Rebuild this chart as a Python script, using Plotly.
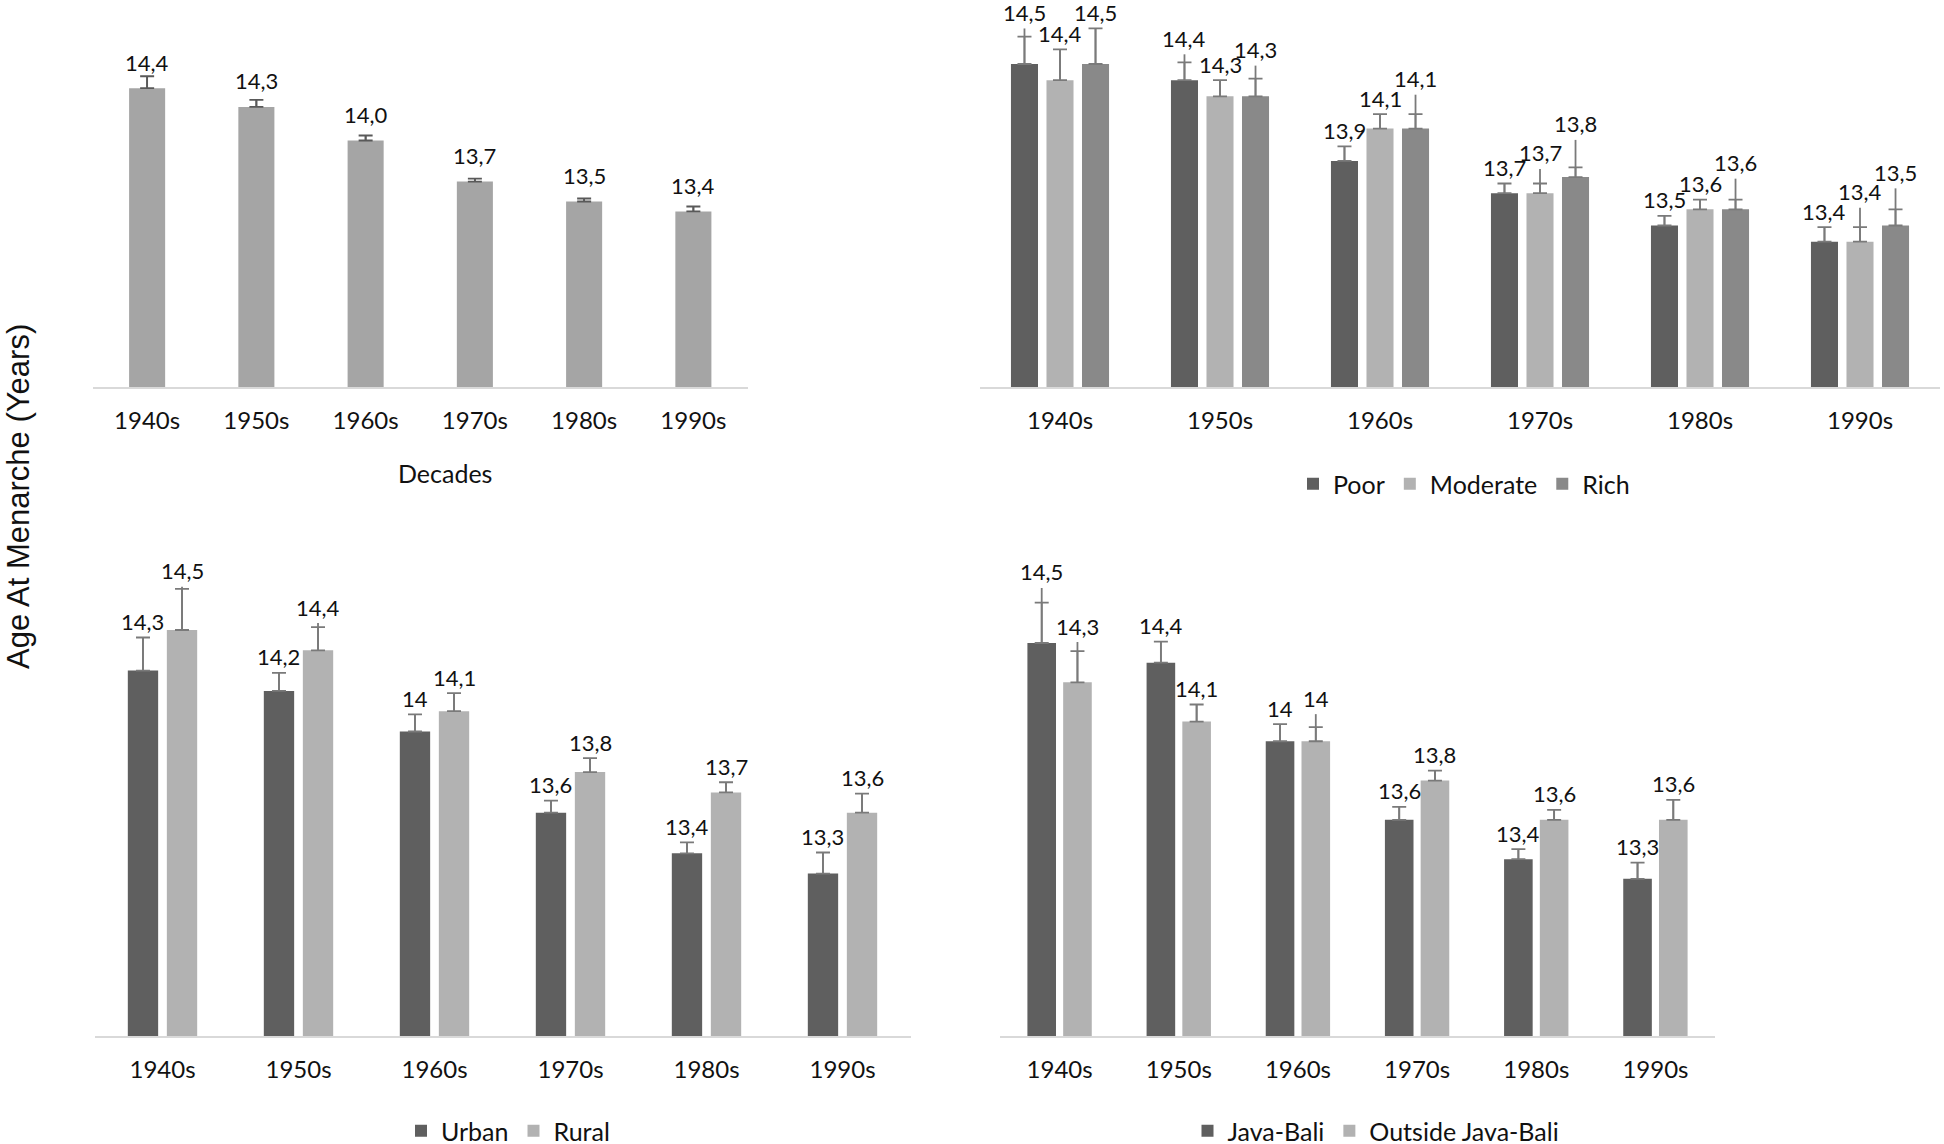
import plotly.graph_objects as go

# ---------------- data ----------------
decades = ["1940s", "1950s", "1960s", "1970s", "1980s", "1990s"]

# Panel A: all women
overall = [14.40, 14.25, 13.98, 13.65, 13.49, 13.41]
overall_err = [0.096, 0.056, 0.040, 0.024, 0.024, 0.040]
overall_lbl = ["14,4", "14,3", "14,0", "13,7", "13,5", "13,4"]

# Panel B: wealth
poor = [14.5, 14.4, 13.9, 13.7, 13.5, 13.4]
moderate = [14.4, 14.3, 14.1, 13.7, 13.6, 13.4]
rich = [14.5, 14.3, 14.1, 13.8, 13.6, 13.5]
poor_err = [0.17, 0.11, 0.09, 0.06, 0.06, 0.09]
poor_err_hi = [0.22, 0.16, 0.09, 0.06, 0.06, 0.09]
moderate_err = [0.19, 0.10, 0.09, 0.06, 0.06, 0.09]
moderate_err_hi = [0.19, 0.10, 0.09, 0.15, 0.06, 0.21]
rich_err = [0.22, 0.11, 0.09, 0.06, 0.06, 0.10]
rich_err_hi = [0.22, 0.19, 0.21, 0.23, 0.19, 0.23]
poor_lbl = ["14,5", "14,4", "13,9", "13,7", "13,5", "13,4"]
moderate_lbl = ["14,4", "14,3", "14,1", "13,7", "13,6", "13,4"]
rich_lbl = ["14,5", "14,3", "14,1", "13,8", "13,6", "13,5"]

# Panel C: residence
urban = [14.3, 14.2, 14.0, 13.6, 13.4, 13.3]
rural = [14.5, 14.4, 14.1, 13.8, 13.7, 13.6]
urban_err = [0.163, 0.089, 0.084, 0.059, 0.054, 0.104]
urban_err_hi = [0.163, 0.089, 0.084, 0.059, 0.054, 0.104]
rural_err = [0.203, 0.114, 0.089, 0.069, 0.050, 0.094]
rural_err_hi = [0.213, 0.134, 0.089, 0.069, 0.050, 0.094]
urban_lbl = ["14,3", "14,2", "14", "13,6", "13,4", "13,3"]
rural_lbl = ["14,5", "14,4", "14,1", "13,8", "13,7", "13,6"]

# Panel D: region
java = [14.5, 14.4, 14.0, 13.6, 13.4, 13.3]
outside = [14.3, 14.1, 14.0, 13.8, 13.6, 13.6]
java_err = [0.205, 0.107, 0.087, 0.066, 0.051, 0.082]
java_err_hi = [0.28, 0.107, 0.087, 0.066, 0.051, 0.082]
outside_err = [0.159, 0.087, 0.072, 0.051, 0.051, 0.102]
outside_err_hi = [0.205, 0.087, 0.138, 0.051, 0.051, 0.102]
java_lbl = ["14,5", "14,4", "14", "13,6", "13,4", "13,3"]
outside_lbl = ["14,3", "14,1", "14", "13,8", "13,6", "13,6"]

# ---------------- layout constants ----------------
W, H = 1944, 1144
FONT = "Lato, 'Open Sans', sans-serif"
DARK, LIGHT, MID, SINGLE = "#5f5f5f", "#b2b2b2", "#898989", "#a5a5a5"
ERR_DARK, ERR = "#595959", "#7a7a7a"
TXT = "#111111"

# px geometry of each panel: x0, x1, baseline, top, ymin, px per unit,
# bar width, bar pitch (category units), label mode and label shift (px)
panels = {
    1: dict(x0=92.5, x1=748, base=387, top=0, ymin=12.0, ppu=124.5, bw=0.33, pitch=0.0,
            lab_from_bar=True, lshift=26),
    2: dict(x0=980, x1=1940, base=387, top=0, ymin=12.5, ppu=161.5, bw=0.169, pitch=0.222,
            lab_from_bar=False, lshift=16),
    3: dict(x0=94.5, x1=910.5, base=1036, top=520, ymin=12.5, ppu=203.0, bw=0.223, pitch=0.287,
            lab_from_bar=False, lshift=16),
    4: dict(x0=1000, x1=1715, base=1036, top=520, ymin=12.5, ppu=196.5, bw=0.24, pitch=0.30,
            lab_from_bar=False, lshift=16),
}

fig = go.Figure()
xs = list(range(len(decades)))
annotations = []


def add_series(p, vals, err, err_hi, lbls, color, name, idx, n, errcolor, legend):
    cfg = panels[p]
    off = (idx - (n - 1) / 2) * cfg["pitch"]
    ax = "" if p == 1 else str(p)
    # extended (capless) error line
    fig.add_trace(go.Bar(
        x=xs, y=vals, width=cfg["bw"], offset=off - cfg["bw"] / 2,
        marker=dict(color="rgba(0,0,0,0)", line=dict(width=0)),
        error_y=dict(type="data", array=err_hi, arrayminus=[0] * len(vals), symmetric=False,
                     color=errcolor, thickness=1.8, width=0),
        showlegend=False, hoverinfo="skip", xaxis="x" + ax, yaxis="y" + ax,
    ))
    fig.add_trace(go.Bar(
        x=xs, y=vals, width=cfg["bw"], offset=off - cfg["bw"] / 2,
        marker=dict(color=color, line=dict(width=0)),
        error_y=dict(type="data", array=err, arrayminus=[0] * len(vals), symmetric=False,
                     color=errcolor, thickness=1.8, width=7),
        name=name, showlegend=legend is not None, legend=legend or "legend",
        xaxis="x" + ax, yaxis="y" + ax,
    ))
    for i, (v, e, t) in enumerate(zip(vals, err_hi, lbls)):
        yv = v if cfg["lab_from_bar"] else v + e
        annotations.append(dict(
            x=i + off, y=yv, xref="x" + ax, yref="y" + ax, text=t, showarrow=False,
            yanchor="middle", yshift=cfg["lshift"], font=dict(family=FONT, size=22, color=TXT),
        ))


add_series(1, overall, overall_err, overall_err, overall_lbl, SINGLE, "All", 0, 1, ERR_DARK, None)

add_series(2, poor, poor_err, poor_err_hi, poor_lbl, DARK, "Poor", 0, 3, ERR, "legend")
add_series(2, moderate, moderate_err, moderate_err_hi, moderate_lbl, LIGHT, "Moderate", 1, 3, ERR, "legend")
add_series(2, rich, rich_err, rich_err_hi, rich_lbl, MID, "Rich", 2, 3, ERR, "legend")

add_series(3, urban, urban_err, urban_err_hi, urban_lbl, DARK, "Urban", 0, 2, ERR, "legend2")
add_series(3, rural, rural_err, rural_err_hi, rural_lbl, LIGHT, "Rural", 1, 2, ERR, "legend2")

add_series(4, java, java_err, java_err_hi, java_lbl, DARK, "Java-Bali", 0, 2, ERR, "legend3")
add_series(4, outside, outside_err, outside_err_hi, outside_lbl, LIGHT, "Outside Java-Bali", 1, 2, ERR, "legend3")

layout_axes = {}
for p, cfg in panels.items():
    ax = "" if p == 1 else str(p)
    layout_axes["xaxis" + ax] = dict(
        domain=[cfg["x0"] / W, cfg["x1"] / W], range=[-0.5, len(decades) - 0.5],
        tickmode="array", tickvals=xs, ticktext=decades,
        showgrid=False, zeroline=False, showline=True, linecolor="#d9d9d9", linewidth=2,
        ticks="outside", ticklen=11, tickcolor="rgba(0,0,0,0)",
        tickfont=dict(family=FONT, size=24, color=TXT), anchor="y" + ax, fixedrange=True,
    )
    layout_axes["yaxis" + ax] = dict(
        domain=[1 - cfg["base"] / H, 1 - cfg["top"] / H],
        range=[cfg["ymin"], cfg["ymin"] + (cfg["base"] - cfg["top"]) / cfg["ppu"]],
        visible=False, anchor="x" + ax, fixedrange=True,
    )

annotations.append(dict(
    x=445 / W, y=1 - 473 / H, xref="paper", yref="paper", text="Decades", showarrow=False,
    font=dict(family=FONT, size=25, color=TXT), xanchor="center", yanchor="middle",
))
annotations.append(dict(
    x=19 / W, y=1 - 497 / H, xref="paper", yref="paper", text="Age At Menarche (Years)",
    showarrow=False, textangle=-90, font=dict(family="'Liberation Sans', Arial, sans-serif", size=31, color=TXT),
    xanchor="center", yanchor="middle",
))

legend_common = dict(orientation="h", xanchor="center", yanchor="middle", itemwidth=30,
                     font=dict(family=FONT, size=25, color=TXT), bgcolor="rgba(0,0,0,0)",
                     traceorder="normal")

fig.update_layout(
    width=W, height=H, margin=dict(l=0, r=0, t=0, b=0, autoexpand=False),
    paper_bgcolor="white", plot_bgcolor="white", barmode="overlay",
    annotations=annotations,
    legend=dict(x=1464 / W, y=1 - 484 / H, **legend_common),
    legend2=dict(x=508 / W, y=1 - 1131 / H, **legend_common),
    legend3=dict(x=1376 / W, y=1 - 1131 / H, **legend_common),
    **layout_axes,
)

fig.write_html(
    "out.html",
    config={"displayModeBar": False},
    post_script="document.body.style.margin='0';document.body.style.overflow='hidden';",
)
